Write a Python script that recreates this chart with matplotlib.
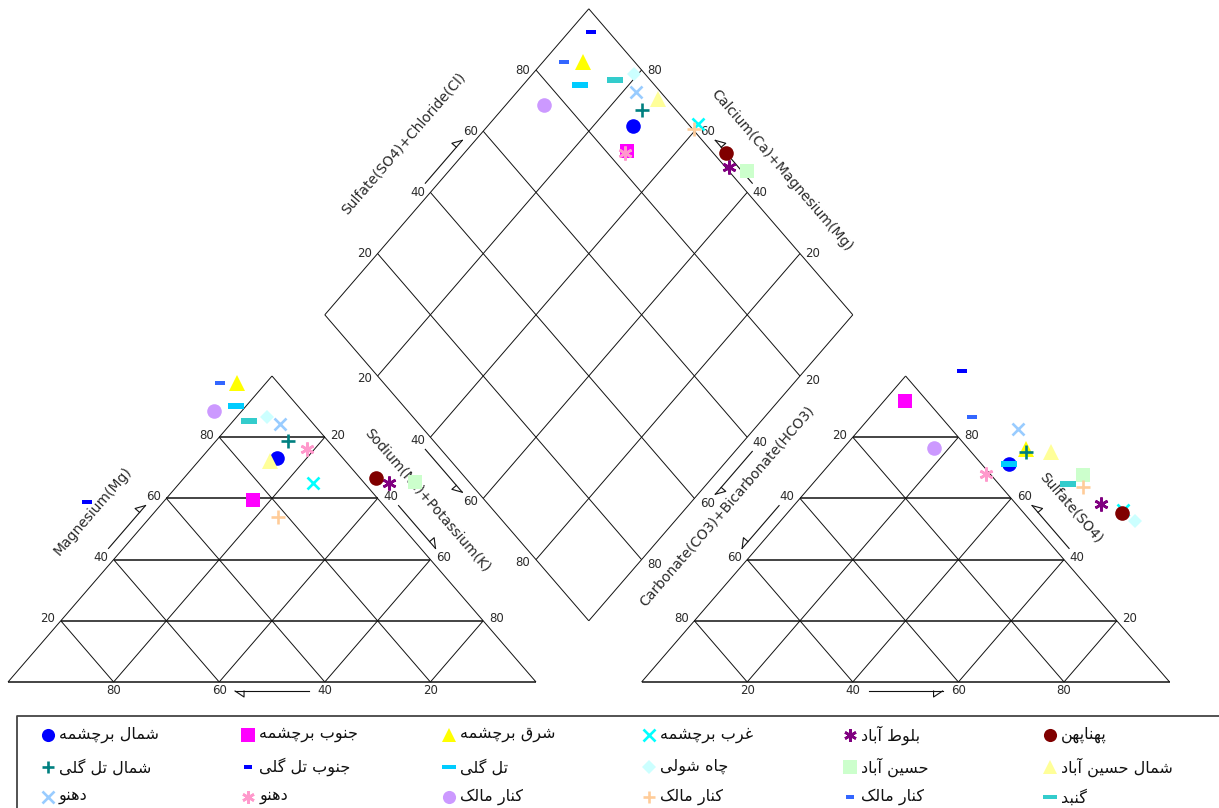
import numpy as np
import matplotlib
matplotlib.use("Agg")
import matplotlib.pyplot as plt

# ---------------- sample data (percent of meq/L) ----------------
names = ['شمال برچشمه', 'جنوب برچشمه', 'شرق برچشمه', 'غرب برچشمه', 'بلوط آباد', 'پهناپهن',
         'شمال تل گلی', 'جنوب تل گلی', 'تل گلی', 'چاه شولی', 'حسین آباد', 'شمال حسین آباد',
         'دهنو', 'دهنو', 'کنار مالک', 'کنار مالک', 'کنار مالک', 'گنبد']

# cation triangle: magnesium and sodium+potassium
mg = [73.2, 59.5, 97.7, 65.0, 65.0, 66.7, 78.8, 58.8, 90.2, 86.6, 65.4, 72.2,
      84.3, 76.1, 88.6, 53.9, 97.7, 85.3]
na_k = [14.3, 16.7, -5.5, 25.3, 39.7, 36.4, 13.6, -14.4, -1.9, 5.8, 44.4, 13.5,
        9.3, 18.5, -5.3, 24.1, -8.7, 3.0]

# anion triangle: sulfate and chloride
so4 = [71.2, 91.8, 76.1, 56.2, 58.2, 55.2, 75.2, 101.6, 71.2, 52.6, 67.6, 75.2,
       82.7, 68.0, 76.5, 63.7, 86.6, 64.7]
cl = [34.0, 4.0, 34.7, 63.1, 57.9, 63.4, 35.2, 9.9, 34.0, 67.1, 49.8, 39.9,
      30.0, 31.2, 17.2, 51.7, 19.3, 48.4]

# central diamond: calcium+magnesium and sulfate+chloride
ca_mg = [72.5, 69.5, 92.4, 60.5, 47.6, 50.4, 73.4, 95.8, 89.2, 80.8, 43.6, 72.2,
         77.5, 69.6, 92.8, 60.4, 96.0, 83.4]
so4_cl = [89.2, 84.0, 90.2, 101.9, 100.7, 102.4, 93.5, 96.6, 85.9, 97.9, 103.5, 98.4,
          95.3, 83.3, 75.8, 100.3, 86.6, 93.3]

colors = ['#0000FF', '#FF00FF', '#FFFF00', '#00FFFF', '#800080', '#800000',
          '#008080', '#0000FF', '#00CCFF', '#CCFFFF', '#CCFFCC', '#FFFF99',
          '#99CCFF', '#FF99CC', '#CC99FF', '#FFCC99', '#3366FF', '#33CCCC']
symbols = ['circle', 'square', 'triangle', 'x', 'star', 'circle',
           'plus', 'dash_s', 'dash', 'diamond', 'square', 'triangle',
           'x', 'star', 'circle', 'plus', 'dash_s', 'dash']

ticks = [20, 40, 60, 80]

# ---------------- marker styles ----------------
BAR = [(-1, -0.33), (1, -0.33), (1, 0.33), (-1, 0.33), (-1, -0.33)]
BAR_S = [(-1, -0.45), (1, -0.45), (1, 0.45), (-1, 0.45), (-1, -0.45)]
STYLE = {
    'circle':   dict(marker='o', ms=10.5, mew=0),
    'square':   dict(marker='s', ms=10.5, mew=0),
    'triangle': dict(marker='^', ms=11, mew=0),
    'diamond':  dict(marker='D', ms=7.5, mew=0),
    'x':        dict(marker='x', ms=9, mew=1.9),
    'plus':     dict(marker='+', ms=10, mew=1.9),
    'star':     dict(marker=(6, 2, 0), ms=10, mew=1.9),
    'dash':     dict(marker=BAR, ms=11, mew=0),
    'dash_s':   dict(marker=BAR_S, ms=6.5, mew=0),
}

# ---------------- Persian text shaping ----------------
FORMS = {
    'ا': (0xFE8D, 0xFE8E, None, None), 'آ': (0xFE81, 0xFE82, None, None),
    'ب': (0xFE8F, 0xFE90, 0xFE91, 0xFE92), 'پ': (0xFB56, 0xFB57, 0xFB58, 0xFB59),
    'ت': (0xFE95, 0xFE96, 0xFE97, 0xFE98), 'ج': (0xFE9D, 0xFE9E, 0xFE9F, 0xFEA0),
    'چ': (0xFB7A, 0xFB7B, 0xFB7C, 0xFB7D), 'ح': (0xFEA1, 0xFEA2, 0xFEA3, 0xFEA4),
    'د': (0xFEA9, 0xFEAA, None, None), 'ر': (0xFEAD, 0xFEAE, None, None),
    'س': (0xFEB1, 0xFEB2, 0xFEB3, 0xFEB4), 'ش': (0xFEB5, 0xFEB6, 0xFEB7, 0xFEB8),
    'ط': (0xFEC1, 0xFEC2, 0xFEC3, 0xFEC4), 'غ': (0xFECD, 0xFECE, 0xFECF, 0xFED0),
    'ق': (0xFED5, 0xFED6, 0xFED7, 0xFED8), 'ک': (0xFB8E, 0xFB8F, 0xFB90, 0xFB91),
    'گ': (0xFB92, 0xFB93, 0xFB94, 0xFB95), 'ل': (0xFEDD, 0xFEDE, 0xFEDF, 0xFEE0),
    'م': (0xFEE1, 0xFEE2, 0xFEE3, 0xFEE4), 'ن': (0xFEE5, 0xFEE6, 0xFEE7, 0xFEE8),
    'و': (0xFEED, 0xFEEE, None, None), 'ه': (0xFEE9, 0xFEEA, 0xFEEB, 0xFEEC),
    'ی': (0xFBFC, 0xFBFD, 0xFBFE, 0xFBFF),
}


def rtl(text):
    """Contextual letter forms in visual (left-to-right) order."""
    out = []
    for i, ch in enumerate(text):
        if ch not in FORMS:
            out.append(ch)
            continue
        iso, fin, ini, med = FORMS[ch]
        prev = text[i - 1] if i > 0 else ''
        nxt = text[i + 1] if i + 1 < len(text) else ''
        jp = prev in FORMS and FORMS[prev][2] is not None
        jn = nxt in FORMS and ini is not None
        cp = med if (jp and jn) else fin if jp else ini if jn else iso
        out.append(chr(cp))
    return ''.join(reversed(out))


# ---------------- geometry ----------------
H = np.sqrt(3) / 2
GAP = 0.2
AX0 = 1 + GAP                       # left corner of the anion triangle
B = np.array([1 + GAP / 2, GAP * H])   # diamond corners
L = B + np.array([-0.5, H])
R = B + np.array([0.5, H])
T = B + np.array([0.0, 2 * H])

# pixel scale of one ternary unit (triangles are drawn squashed vertically)
PXU = 528.0
PYU = 306.0 / H
X0P, Y0P = 8.0, 682.0
W, HGT = 1219, 808


def shift(p, dxp, dyp):
    """Move a data point by a pixel offset (dyp positive = down)."""
    return np.array([p[0] + dxp / PXU, p[1] - dyp / PYU])


def cation_xy(m, n):
    m, n = np.asarray(m) / 100, np.asarray(n) / 100
    return n + m / 2, m * H


def anion_xy(s, c):
    s, c = np.asarray(s) / 100, np.asarray(c) / 100
    return AX0 + c + s / 2, s * H


def diamond_xy(cm, sc):
    cm, sc = np.asarray(cm) / 100, np.asarray(sc) / 100
    p = B[:, None] + np.outer(L - B, cm) + np.outer(R - B, sc)
    return p[0], p[1]


fig = plt.figure(figsize=(W / 100, HGT / 100), dpi=100)
ax = fig.add_axes([0, 0, 1, 1])
ax.set_xlim(-X0P / PXU, (W - X0P) / PXU)
ax.set_ylim((Y0P - HGT) / PYU, Y0P / PYU)
ax.axis('off')

LC = '#111111'
TC = '#2a2a2a'


def seg(p, q, lw=0.7):
    ax.plot([p[0], q[0]], [p[1], q[1]], color=LC, lw=lw, solid_capstyle='butt', zorder=1)


# triangles
for x0 in (0.0, AX0):
    a, b, c = np.array([x0, 0]), np.array([x0 + 1, 0]), np.array([x0 + 0.5, H])
    seg(a, b, 1.1); seg(b, c); seg(c, a)
    for v in ticks:
        f = v / 100
        seg([x0 + f / 2, f * H], [x0 + 1 - f / 2, f * H], 1.1)
        seg([x0 + f, 0], [x0 + f + (1 - f) / 2, (1 - f) * H])
        seg([x0 + 1 - f, 0], [x0 + (1 - f) / 2, (1 - f) * H])

# diamond
for v in [0] + ticks + [100]:
    f = v / 100
    p = B + f * (L - B)
    seg(p, p + (R - B))
    p = B + f * (R - B)
    seg(p, p + (L - B))


# ---------------- tick labels, arrows, titles ----------------
def label(p, txt, dx, dy):
    q = shift(p, dx, dy)
    ax.text(q[0], q[1], txt, ha='center', va='center', fontsize=8.5, color=TC,
            family='DejaVu Sans')


def arrow(pos, dx, dy):
    """Small axis arrow between the 40 and 60 labels; pos(v) gives the edge point."""
    p = shift(pos(43), dx, dy)
    q = shift(pos(57), dx, dy)
    pp = np.array([p[0] * PXU, p[1] * PYU])
    qq = np.array([q[0] * PXU, q[1] * PYU])
    u = (qq - pp) / np.linalg.norm(qq - pp)
    o = np.array([dx, -dy], float)
    n = o - u * np.dot(o, u)
    n = n / np.linalg.norm(n)
    base = qq - 9 * u
    wing = base + 6 * n
    pts = np.array([pp, qq, wing, base]) / np.array([PXU, PYU])
    ax.plot(pts[:2, 0], pts[:2, 1], color=LC, lw=0.8, zorder=1)
    ax.plot(pts[1:, 0], pts[1:, 1], color=LC, lw=0.8, zorder=1)


def title(p, txt, dx, dy, rot):
    q = shift(p, dx, dy)
    ax.text(q[0], q[1], txt, ha='center', va='center', rotation=rot,
            rotation_mode='anchor', fontsize=10, color=TC, family='DejaVu Sans')


ANG = np.degrees(np.arctan2(306, 264))

edges = {
    'cat_left':  (lambda v: np.array([v / 200, v / 100 * H]), -13, -2),
    'cat_right': (lambda v: np.array([1 - (100 - v) / 200, (100 - v) / 100 * H]), 13, -2),
    'cat_bot':   (lambda v: np.array([1 - v / 100, 0.0]), 0, 9),
    'an_left':   (lambda v: np.array([AX0 + (100 - v) / 200, (100 - v) / 100 * H]), -13, -2),
    'an_right':  (lambda v: np.array([AX0 + 1 - v / 200, v / 100 * H]), 13, -2),
    'an_bot':    (lambda v: np.array([AX0 + v / 100, 0.0]), 0, 9),
    'dm_ul':     (lambda v: L + v / 100 * (T - L), -13, 0),
    'dm_ur':     (lambda v: R + v / 100 * (T - R), 13, 0),
    'dm_ll':     (lambda v: L + v / 100 * (B - L), -13, 3),
    'dm_lr':     (lambda v: R + v / 100 * (B - R), 13, 5),
}

for key, (pos, dx, dy) in edges.items():
    for v in ticks:
        label(pos(v), str(v), dx, dy)
    arrow(pos, dx, dy)

title(edges['cat_left'][0](56), 'Magnesium(Mg)', -63, 0, ANG)
title(edges['cat_right'][0](40.5), 'Sodium(Na)+Potassium(K)', 49, 0, -ANG)
title(edges['an_left'][0](42.5), 'Carbonate(CO3)+Bicarbonate(HCO3)', -67, 0, ANG)
title(edges['an_right'][0](56.9), 'Sulfate(SO4)', 52, 0, -ANG)
title(edges['dm_ul'][0](56.1), 'Sulfate(SO4)+Chloride(Cl)', -69, 0, ANG)
title(edges['dm_ur'][0](47.3), 'Calcium(Ca)+Magnesium(Mg)', 54, 0, -ANG)

# ---------------- sample points ----------------
cx, cy = cation_xy(mg, na_k)
axx, ayy = anion_xy(so4, cl)
dx_, dy_ = diamond_xy(ca_mg, so4_cl)
for i in range(len(names)):
    st = STYLE[symbols[i]]
    for x, y in ((cx[i], cy[i]), (axx[i], ayy[i]), (dx_[i], dy_[i])):
        ax.plot([x], [y], linestyle='none', marker=st['marker'], ms=st['ms'],
                mew=st['mew'], color=colors[i], mec=colors[i], zorder=3 + i * 0.01)

# ---------------- legend ----------------
LX0, LY0 = 17, 716
frame = np.array([[W + 5, LY0], [LX0, LY0], [LX0, HGT + 5]], float)
ax.plot((frame[:, 0] - X0P) / PXU, (Y0P - frame[:, 1]) / PYU, color='#444444', lw=1.3,
        clip_on=False)
row_y = [735, 767, 797]
for i, nm in enumerate(names):
    r, c = divmod(i, 6)
    xp = 48 + c * 200.4
    yp = row_y[r]
    st = STYLE[symbols[i]]
    px, py = (xp - X0P) / PXU, (Y0P - yp) / PYU
    ms = st['ms'] * 0.9
    ax.plot([px], [py], linestyle='none', marker=st['marker'], ms=ms, mew=st['mew'],
            color=colors[i], mec=colors[i], clip_on=False)
    tx = (xp + 11 - X0P) / PXU
    ax.text(tx, py, rtl(nm), ha='left', va='center', fontsize=11.5, color='#111111',
            family='DejaVu Sans')

fig.savefig('out.png', dpi=100)
